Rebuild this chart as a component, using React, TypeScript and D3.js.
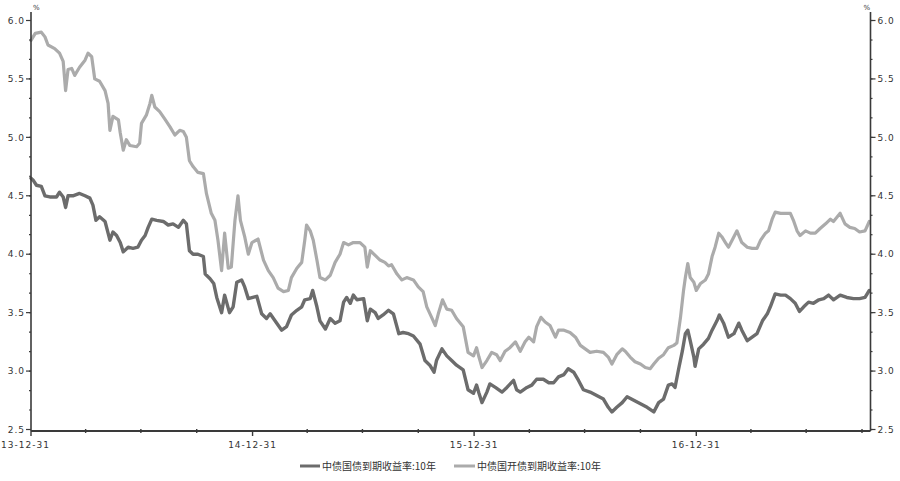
import React from "react";
import * as d3 from "d3";

// 中债国债到期收益率:10年
const govDates = [
  "2013-12-31","2014-01-04","2014-01-09","2014-01-17","2014-01-23","2014-01-31","2014-02-11","2014-02-16","2014-02-22","2014-02-26",
  "2014-03-02","2014-03-10","2014-03-21","2014-03-30","2014-04-07","2014-04-12","2014-04-17","2014-04-23","2014-05-02","2014-05-07",
  "2014-05-10","2014-05-15","2014-05-21","2014-05-27","2014-06-01","2014-06-09","2014-06-17","2014-06-25","2014-07-01","2014-07-07",
  "2014-07-12","2014-07-18","2014-07-26","2014-08-06","2014-08-14","2014-08-22","2014-08-31","2014-09-08","2014-09-13","2014-09-18",
  "2014-09-24","2014-10-02","2014-10-11","2014-10-14","2014-10-22","2014-10-28","2014-11-02","2014-11-10","2014-11-15","2014-11-23",
  "2014-11-29","2014-12-05","2014-12-13","2014-12-18","2014-12-24","2015-01-07","2015-01-15","2015-01-23","2015-01-29","2015-02-06",
  "2015-02-17","2015-02-25","2015-03-05","2015-03-14","2015-03-22","2015-03-27","2015-04-05","2015-04-09","2015-04-16","2015-04-21",
  "2015-04-30","2015-05-08","2015-05-16","2015-05-24","2015-05-30","2015-06-04","2015-06-10","2015-06-15","2015-06-21","2015-07-02",
  "2015-07-08","2015-07-13","2015-07-21","2015-07-26","2015-08-03","2015-08-12","2015-08-20","2015-08-29","2015-09-05","2015-09-14",
  "2015-09-22","2015-10-03","2015-10-11","2015-10-19","2015-10-26","2015-10-30","2015-11-08","2015-11-16","2015-11-24","2015-12-02",
  "2015-12-13","2015-12-21","2015-12-30","2016-01-04","2016-01-08","2016-01-13","2016-01-21","2016-01-26","2016-02-04","2016-02-15",
  "2016-02-23","2016-03-05","2016-03-10","2016-03-16","2016-03-27","2016-04-04","2016-04-12","2016-04-23","2016-05-02","2016-05-10",
  "2016-05-18","2016-05-27","2016-06-03","2016-06-12","2016-06-20","2016-06-28","2016-07-09","2016-07-20","2016-07-31","2016-08-08",
  "2016-08-14","2016-08-22","2016-08-31","2016-09-08","2016-09-19","2016-09-30","2016-10-11","2016-10-22","2016-10-30","2016-11-07",
  "2016-11-15","2016-11-21","2016-11-26","2016-12-02","2016-12-08","2016-12-13","2016-12-17","2016-12-21","2016-12-27","2016-12-29",
  "2017-01-04","2017-01-12","2017-01-20","2017-01-26","2017-02-03","2017-02-07","2017-02-14","2017-02-22","2017-03-03","2017-03-11",
  "2017-03-16","2017-03-25","2017-04-02","2017-04-10","2017-04-19","2017-04-27","2017-05-02","2017-05-10","2017-05-19","2017-05-27",
  "2017-06-04","2017-06-12","2017-06-19","2017-06-26","2017-07-04","2017-07-12","2017-07-21","2017-07-29","2017-08-06","2017-08-14",
  "2017-08-25","2017-09-05","2017-09-16","2017-09-26","2017-10-05","2017-10-12"
];
const govValues = [
  4.65,4.63,4.59,4.58,4.50,4.49,4.49,4.53,4.49,4.40,
  4.50,4.50,4.52,4.50,4.48,4.42,4.29,4.32,4.28,4.18,
  4.12,4.19,4.16,4.10,4.02,4.06,4.05,4.06,4.12,4.16,
  4.23,4.30,4.29,4.28,4.25,4.26,4.23,4.29,4.26,4.03,
  4.00,4.00,3.98,3.83,3.79,3.75,3.63,3.50,3.65,3.50,
  3.55,3.76,3.78,3.72,3.62,3.64,3.49,3.45,3.49,3.43,
  3.35,3.38,3.48,3.52,3.55,3.61,3.62,3.69,3.55,3.43,
  3.36,3.45,3.41,3.43,3.59,3.63,3.58,3.65,3.61,3.62,
  3.43,3.53,3.50,3.45,3.48,3.52,3.49,3.32,3.33,3.32,
  3.30,3.23,3.09,3.05,2.99,3.09,3.19,3.13,3.09,3.05,
  3.01,2.84,2.81,2.88,2.81,2.73,2.82,2.89,2.86,2.82,
  2.86,2.92,2.84,2.82,2.86,2.88,2.93,2.93,2.90,2.90,
  2.95,2.97,3.02,2.99,2.92,2.84,2.82,2.79,2.76,2.69,
  2.65,2.69,2.73,2.78,2.75,2.72,2.69,2.65,2.73,2.76,
  2.88,2.89,2.86,3.02,3.17,3.32,3.35,3.26,3.12,3.04,
  3.19,3.23,3.28,3.35,3.43,3.48,3.41,3.29,3.32,3.41,
  3.35,3.26,3.29,3.32,3.43,3.49,3.55,3.66,3.65,3.65,
  3.62,3.58,3.51,3.55,3.59,3.58,3.61,3.62,3.65,3.61,
  3.65,3.63,3.62,3.62,3.63,3.69
];

// 中债国开债到期收益率:10年
const cdbDates = [
  "2013-12-31","2014-01-07","2014-01-17","2014-01-23","2014-01-28","2014-02-08","2014-02-16","2014-02-22","2014-02-26","2014-03-02",
  "2014-03-08","2014-03-13","2014-03-21","2014-03-30","2014-04-04","2014-04-10","2014-04-15","2014-04-23","2014-05-02","2014-05-07",
  "2014-05-10","2014-05-15","2014-05-24","2014-05-27","2014-06-01","2014-06-06","2014-06-12","2014-06-23","2014-06-28","2014-07-01",
  "2014-07-09","2014-07-15","2014-07-18","2014-07-23","2014-07-31","2014-08-08","2014-08-17","2014-08-25","2014-09-02","2014-09-08",
  "2014-09-13","2014-09-18","2014-09-24","2014-10-02","2014-10-11","2014-10-16","2014-10-24","2014-10-30","2014-11-04","2014-11-10",
  "2014-11-15","2014-11-21","2014-11-26","2014-12-02","2014-12-07","2014-12-11","2014-12-18","2014-12-24","2014-12-30","2015-01-09",
  "2015-01-18","2015-01-26","2015-02-03","2015-02-11","2015-02-20","2015-02-28","2015-03-05","2015-03-14","2015-03-22","2015-03-27",
  "2015-03-30","2015-04-05","2015-04-10","2015-04-16","2015-04-21","2015-04-30","2015-05-08","2015-05-16","2015-05-24","2015-05-30",
  "2015-06-07","2015-06-15","2015-06-26","2015-07-04","2015-07-08","2015-07-13","2015-07-21","2015-07-29","2015-08-06","2015-08-12",
  "2015-08-17","2015-08-26","2015-09-03","2015-09-11","2015-09-22","2015-09-30","2015-10-08","2015-10-14","2015-10-22","2015-10-28",
  "2015-11-02","2015-11-09","2015-11-16","2015-11-24","2015-12-02","2015-12-13","2015-12-21","2015-12-30","2016-01-04","2016-01-08",
  "2016-01-13","2016-01-21","2016-01-29","2016-02-06","2016-02-12","2016-02-20","2016-02-28","2016-03-08","2016-03-16","2016-03-24",
  "2016-03-30","2016-04-07","2016-04-12","2016-04-19","2016-04-26","2016-05-04","2016-05-13","2016-05-18","2016-05-27","2016-06-06",
  "2016-06-15","2016-06-23","2016-07-01","2016-07-09","2016-07-20","2016-07-31","2016-08-08","2016-08-14","2016-08-22","2016-08-31",
  "2016-09-05","2016-09-13","2016-09-21","2016-09-30","2016-10-08","2016-10-16","2016-10-22","2016-10-30","2016-11-07","2016-11-15",
  "2016-11-24","2016-11-29","2016-12-05","2016-12-10","2016-12-13","2016-12-17","2016-12-21","2016-12-27","2016-12-31","2017-01-07",
  "2017-01-15","2017-01-20","2017-01-26","2017-01-31","2017-02-06","2017-02-11","2017-02-17","2017-02-22","2017-02-28","2017-03-08",
  "2017-03-16","2017-03-25","2017-04-02","2017-04-10","2017-04-16","2017-04-24","2017-04-29","2017-05-05","2017-05-10","2017-05-19",
  "2017-05-27","2017-06-04","2017-06-09","2017-06-15","2017-06-20","2017-06-29","2017-07-07","2017-07-15","2017-07-23","2017-08-01",
  "2017-08-09","2017-08-14","2017-08-25","2017-09-02","2017-09-10","2017-09-18","2017-09-26","2017-10-05","2017-10-12"
];
const cdbValues = [
  5.83,5.89,5.90,5.86,5.79,5.76,5.72,5.65,5.40,5.58,
  5.59,5.53,5.60,5.66,5.72,5.69,5.50,5.48,5.40,5.29,
  5.06,5.18,5.15,5.04,4.89,4.98,4.93,4.92,4.95,5.12,
  5.19,5.29,5.36,5.26,5.22,5.16,5.09,5.02,5.06,5.05,
  5.00,4.80,4.75,4.70,4.69,4.52,4.35,4.29,4.12,3.86,
  4.18,3.88,3.89,4.29,4.50,4.29,4.15,4.00,4.10,4.13,
  3.95,3.86,3.80,3.71,3.68,3.69,3.80,3.88,3.93,4.12,
  4.25,4.20,4.12,3.95,3.80,3.78,3.82,3.93,4.00,4.10,
  4.08,4.10,4.10,4.06,3.89,4.03,3.99,3.95,3.93,3.90,
  3.91,3.83,3.78,3.80,3.78,3.72,3.68,3.55,3.46,3.39,
  3.49,3.61,3.53,3.52,3.45,3.38,3.16,3.13,3.20,3.12,
  3.03,3.09,3.16,3.14,3.09,3.17,3.20,3.25,3.17,3.25,
  3.29,3.25,3.38,3.46,3.42,3.39,3.29,3.35,3.35,3.33,
  3.29,3.22,3.19,3.16,3.17,3.16,3.12,3.06,3.14,3.19,
  3.17,3.12,3.08,3.06,3.03,3.02,3.06,3.11,3.14,3.20,
  3.22,3.24,3.46,3.69,3.80,3.92,3.80,3.76,3.69,3.75,
  3.78,3.83,3.98,4.06,4.18,4.15,4.10,4.06,4.12,4.20,
  4.10,4.06,4.05,4.05,4.12,4.18,4.20,4.30,4.36,4.35,
  4.35,4.35,4.29,4.20,4.16,4.20,4.18,4.18,4.22,4.26,
  4.30,4.28,4.35,4.26,4.23,4.22,4.19,4.20,4.28
];

const seriesNames = ["中债国债到期收益率:10年", "中债国开债到期收益率:10年"];
const seriesColors = ["#6c6c6c", "#ababab"];

const xDomain = ["2013-12-31", "2017-10-14"];
const majorTickDates = ["2013-12-31", "2014-12-31", "2015-12-31", "2016-12-31"];
const majorTickLabels = ["13-12-31", "14-12-31", "15-12-31", "16-12-31"];
const minorTickDates = [
  "2014-03-31","2014-06-30","2014-09-30",
  "2015-03-31","2015-06-30","2015-09-30",
  "2016-03-31","2016-06-30","2016-09-30",
  "2017-03-31","2017-06-30","2017-09-30"
];
const yTicks = [2.5, 3.0, 3.5, 4.0, 4.5, 5.0, 5.5, 6.0];
const yMinorTicks = [2.5, 2.667, 2.833, 3.0, 3.167, 3.333, 3.5, 3.667, 3.833, 4.0, 4.167, 4.333, 4.5, 4.667, 4.833, 5.0, 5.167, 5.333, 5.5, 5.667, 5.833, 6.0];

const parse = d3.timeParse("%Y-%m-%d");

const W = 900, H = 481;
const left = 31, right = 870.5, top = 20.5, bottom = 429.5;
const axisColor = "#3a3a3a";
const textColor = "#333333";
const tickFont = "DejaVu Sans, sans-serif";

export default function App() {
  const x = d3.scaleTime().domain(xDomain.map((s) => parse(s) as Date)).range([left, right]);
  const y = d3.scaleLinear().domain([2.5, 6.0]).range([bottom, top]);
  const line = d3
    .line<[Date, number]>()
    .x((d) => x(d[0]))
    .y((d) => y(d[1]))
    .curve(d3.curveLinear);

  const gov: [Date, number][] = govDates.map((s, i) => [parse(s) as Date, govValues[i]]);
  const cdb: [Date, number][] = cdbDates.map((s, i) => [parse(s) as Date, cdbValues[i]]);
  const axisY = 431;

  return (
    <svg width={W} height={H} style={{ position: "absolute", left: 0, top: 0, background: "#fff" }}>
      <rect x={0} y={0} width={W} height={H} fill="#fff" />
      {/* series */}
      <path d={line(cdb) || ""} fill="none" stroke={seriesColors[1]} strokeWidth={3.2} strokeLinejoin="round" strokeLinecap="round" />
      <path d={line(gov) || ""} fill="none" stroke={seriesColors[0]} strokeWidth={3.4} strokeLinejoin="round" strokeLinecap="round" />

      {/* left axis */}
      <line x1={left} x2={left} y1={12} y2={axisY} stroke={axisColor} strokeWidth={1.6} />
      {yMinorTicks.map((t, i) => (
        <line key={"lm" + i} x1={left - 2} x2={left} y1={y(t)} y2={y(t)} stroke={axisColor} strokeWidth={1.2} />
      ))}
      {yTicks.map((t) => (
        <g key={"l" + t}>
          <line x1={left - 5} x2={left} y1={y(t)} y2={y(t)} stroke={axisColor} strokeWidth={1.2} />
          <text x={left - 6} y={y(t) + 3.2} textAnchor="end" fontSize={9} fontFamily={tickFont} letterSpacing={1} fill={textColor}>
            {d3.format(".1f")(t)}
          </text>
        </g>
      ))}
      <text x={left + 2} y={10} fontSize={7} fontFamily={tickFont} fill={textColor}>%</text>

      {/* right axis */}
      <line x1={right} x2={right} y1={12} y2={axisY} stroke={axisColor} strokeWidth={1.6} />
      {yMinorTicks.map((t, i) => (
        <line key={"rm" + i} x1={right} x2={right + 2} y1={y(t)} y2={y(t)} stroke={axisColor} strokeWidth={1.2} />
      ))}
      {yTicks.map((t) => (
        <g key={"r" + t}>
          <line x1={right} x2={right + 5} y1={y(t)} y2={y(t)} stroke={axisColor} strokeWidth={1.2} />
          <text x={right + 7} y={y(t) + 3.2} textAnchor="start" fontSize={9} fontFamily={tickFont} letterSpacing={1} fill={textColor}>
            {d3.format(".1f")(t)}
          </text>
        </g>
      ))}
      <text x={right - 7} y={10} fontSize={7} fontFamily={tickFont} fill={textColor}>%</text>

      {/* bottom axis */}
      <line x1={left} x2={right} y1={axisY} y2={axisY} stroke={axisColor} strokeWidth={2.2} />
      {minorTickDates.map((s) => {
        const px = x(parse(s) as Date);
        return <line key={"xm" + s} x1={px} x2={px} y1={axisY - 2} y2={axisY + 2} stroke={axisColor} strokeWidth={1.4} />;
      })}
      {majorTickDates.map((s, i) => {
        const px = x(parse(s) as Date);
        return (
          <g key={"xM" + s}>
            <line x1={px} x2={px} y1={axisY} y2={axisY + 5} stroke={axisColor} strokeWidth={1.4} />
            <text
              x={i === 0 ? 1 : px}
              y={448}
              textAnchor={i === 0 ? "start" : "middle"}
              fontSize={9}
              fontFamily={tickFont}
              letterSpacing={1}
              fill={textColor}
            >
              {majorTickLabels[i]}
            </text>
          </g>
        );
      })}

      {/* legend */}
      <line x1={300} x2={320} y1={466} y2={466} stroke={seriesColors[0]} strokeWidth={3} />
      <text x={322} y={470} fontSize={10} fontFamily="Noto Sans CJK SC, sans-serif" fill={textColor}>
        {seriesNames[0]}
      </text>
      <line x1={454} x2={475} y1={466} y2={466} stroke={seriesColors[1]} strokeWidth={3} />
      <text x={477} y={470} fontSize={10} fontFamily="Noto Sans CJK SC, sans-serif" fill={textColor}>
        {seriesNames[1]}
      </text>
    </svg>
  );
}
